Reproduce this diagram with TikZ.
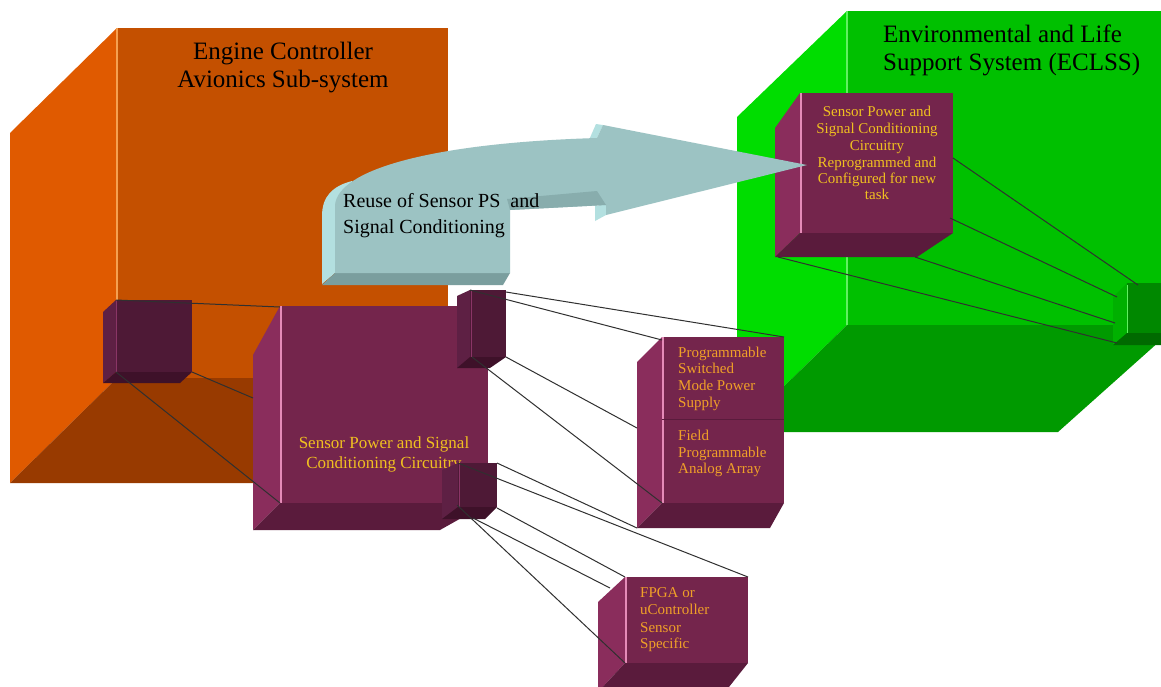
\documentclass[tikz,border=0pt]{standalone}
\usepackage{fontspec}
\setmainfont{Liberation Serif}
\definecolor{orBack}{HTML}{C45000}
\definecolor{orLeft}{HTML}{E05A00}
\definecolor{orFloor}{HTML}{983A00}
\definecolor{orHi}{HTML}{F5A050}
\definecolor{grBack}{HTML}{00C000}
\definecolor{grLeft}{HTML}{00DD00}
\definecolor{grFloor}{HTML}{009A00}
\definecolor{grHi}{HTML}{60F060}
\definecolor{mFront}{HTML}{74254C}
\definecolor{mLeft}{HTML}{8A2D5C}
\definecolor{mBottom}{HTML}{5A1B3C}
\definecolor{mHi}{HTML}{E58BB8}
\definecolor{dFront}{HTML}{4E1936}
\definecolor{dLeft}{HTML}{5E2044}
\definecolor{dBottom}{HTML}{3E1129}
\definecolor{dHi}{HTML}{8A3566}
\definecolor{sgFront}{HTML}{008800}
\definecolor{sgLeft}{HTML}{00B000}
\definecolor{sgBottom}{HTML}{006A00}
\definecolor{arFront}{HTML}{9CC3C3}
\definecolor{arLight}{HTML}{B3E0E0}
\definecolor{arDark}{HTML}{7A9E9E}
\definecolor{arBand}{HTML}{88ADAD}
\definecolor{txGold}{HTML}{F0C020}
\definecolor{txOrange}{HTML}{F0A028}
\definecolor{wireC}{HTML}{303030}
\newcommand{\solidbox}[9]{%
  \fill[#9Left] (#5,#6) -- (#1,#2) -- (#1,#4) -- (#5,#7) -- cycle;
  \fill[#9Bottom] (#5,#7) -- (#1,#4) -- (#3,#4) -- (#8,#7) -- cycle;
  \fill[#9Front] (#1,#2) rectangle (#3,#4);
}
\begin{document}
\begin{tikzpicture}[x=1pt,y=-1pt,
  wire/.style={draw=wireC,line width=1pt},
  title/.style={inner sep=0pt,font=\fontsize{25}{29}\selectfont,text=black},
  reuse/.style={inner sep=0pt,font=\fontsize{20}{24}\selectfont,text=black,anchor=base west},
  mtext/.style={inner sep=0pt,font=\fontsize{17}{20}\selectfont,text=txGold,anchor=base},
  etext/.style={inner sep=0pt,font=\fontsize{15}{17}\selectfont,text=txGold,anchor=base},
  ptext/.style={inner sep=0pt,font=\fontsize{15}{17}\selectfont,text=txOrange,anchor=base west}]
\useasboundingbox (0,0) rectangle (1161,686);
\fill[white] (0,0) rectangle (1161,686);

% ---------- orange cube ----------
\fill[orBack] (117,28) rectangle (448,378);
\fill[orLeft] (10,133) -- (117,28) -- (117,378) -- (10,483) -- cycle;
\fill[orFloor] (117,378) -- (448,378) -- (343,483) -- (10,483) -- cycle;
\draw[orHi,line width=1.2pt] (117,28) -- (117,300);
\node[title,anchor=base] (t1a) at (283,59) {Engine Controller};
\node[title,anchor=base] (t1b) at (283,87) {Avionics Sub-system};

% ---------- green cube ----------
\fill[grBack] (847,11) rectangle (1161,325);
\fill[grLeft] (737,117) -- (847,11) -- (847,325) -- (737,432) -- cycle;
\fill[grFloor] (847,325) -- (1161,325) -- (1161,340) -- (1058,432) -- (737,432) -- cycle;
\draw[grHi,line width=1.2pt] (847,11) -- (847,325);
\node[title,anchor=base west] (t2a) at (883,42) {Environmental and Life};
\node[title,anchor=base west] (t2b) at (883,70) {Support System (ECLSS)};

% ---------- small box in orange cube ----------
\solidbox{116}{300}{192}{372}{103}{312}{383}{180}{d}
\draw[dHi,line width=1pt] (116,300) -- (116,372);

% ---------- main module ----------
\solidbox{280}{306}{488}{503}{253}{355}{530}{440}{m}
\draw[mHi,line width=1.5pt] (281,306) -- (281,503);
\node[mtext] (mm1) at (384,448) {Sensor Power and Signal};
\node[mtext] (mm2) at (384,468) {Conditioning Circuitry};

% small boxes on main module
\solidbox{470}{290}{506}{357}{457}{296}{368}{490}{d}
\draw[dHi,line width=1pt] (471,290) -- (471,357);
\solidbox{458}{463}{497}{507}{442}{470}{519}{485}{d}
\draw[dHi,line width=1pt] (459,463) -- (459,507);

% ---------- ECLSS module ----------
\solidbox{800}{93}{953}{233}{775}{128}{257}{917}{m}
\draw[mHi,line width=1.5pt] (801,93) -- (801,233);
\node[etext] (e1) at (877,116) {Sensor Power and};
\node[etext] (e2) at (877,133) {Signal Conditioning};
\node[etext] (e3) at (877,150) {Circuitry};
\node[etext] (e4) at (877,167) {Reprogrammed and};
\node[etext] (e5) at (877,183) {Configured for new};
\node[etext] (e6) at (877,199) {task};

% small green box
\solidbox{1127}{283}{1161}{333}{1113}{297}{345}{1161}{sg}
\draw[grHi,line width=1pt] (1127,285) -- (1127,333);

% ---------- programmable box ----------
\solidbox{662}{337}{784}{503}{637}{362}{528}{770}{m}
\draw[mHi,line width=1.5pt] (663,337) -- (663,503);
\draw[mBottom,line width=1pt] (662,419) -- (784,419);
\node[ptext] (p1) at (678,357) {Programmable};
\node[ptext] (p2) at (678,373) {Switched};
\node[ptext] (p3) at (678,390) {Mode Power};
\node[ptext] (p4) at (678,407) {Supply};
\node[ptext] (p5) at (678,440) {Field};
\node[ptext] (p6) at (678,457) {Programmable};
\node[ptext] (p7) at (678,473) {Analog Array};

% ---------- FPGA box ----------
\solidbox{625}{577}{748}{663}{598}{602}{692}{725}{m}
\draw[mHi,line width=1.5pt] (626,577) -- (626,663);
\node[ptext] (f1) at (640,597) {FPGA or};
\node[ptext] (f2) at (640,614) {uController};
\node[ptext] (f3) at (640,632) {Sensor};
\node[ptext] (f4) at (640,648) {Specific};

% ---------- connector end points ----------
\coordinate (osTL) at (116,300);
\coordinate (osBR) at (192,372);
\coordinate (osBL) at (116,372);
\coordinate (mmTL) at (280,307);
\coordinate (mmL) at (253,398);
\coordinate (mmBL) at (280,503);
\coordinate (tsTL) at (470,290);
\coordinate (tsTR) at (506,292);
\coordinate (tsBR) at (506,357);
\coordinate (tsBL) at (472,357);
\coordinate (pgTL) at (662,340);
\coordinate (pgTR) at (784,337);
\coordinate (pgL) at (637,428);
\coordinate (pgBL) at (662,503);
\coordinate (pgBB) at (637,528);
\coordinate (bsTR) at (497,463);
\coordinate (bsTL) at (458,463);
\coordinate (bsBR) at (497,508);
\coordinate (bsB) at (473,518);
\coordinate (bsBL) at (457,505);
\coordinate (fpTR) at (748,577);
\coordinate (fpTL) at (625,577);
\coordinate (fpL) at (610,588);
\coordinate (fpBL) at (625,663);
\coordinate (ecR) at (953,158);
\coordinate (ecBR) at (950,218);
\coordinate (ecBB) at (915,257);
\coordinate (ecBL) at (778,257);
\coordinate (sgT) at (1138,285);
\coordinate (sgL1) at (1117,297);
\coordinate (sgL2) at (1115,323);
\coordinate (sgL3) at (1117,343);

% ---------- connectors ----------
\draw[wire] (osTL) -- (mmTL);
\draw[wire] (osBR) -- (mmL);
\draw[wire] (osBL) -- (mmBL);
\draw[wire] (tsTL) -- (pgTL);
\draw[wire] (tsTR) -- (pgTR);
\draw[wire] (tsBR) -- (pgL);
\draw[wire] (tsBL) -- (pgBL);
\draw[wire] (bsTR) -- (pgBB);
\draw[wire] (bsTL) -- (fpTR);
\draw[wire] (bsBR) -- (fpTL);
\draw[wire] (bsB) -- (fpL);
\draw[wire] (bsBL) -- (fpBL);
\draw[wire] (ecR) -- (sgT);
\draw[wire] (ecBR) -- (sgL1);
\draw[wire] (ecBB) -- (sgL2);
\draw[wire] (ecBL) -- (sgL3);

% ---------- curved reuse arrow ----------
% left (light) face of the tail
\fill[arLight] (322,284) -- (322,216) .. controls (322,196) and (333,186) .. (352,181) -- (352,250) -- (335,273) -- cycle;
% bottom (dark) face of the tail
\fill[arDark] (322,285) -- (335,273) -- (510,273) -- (503,285) -- cycle;
% light bevels at the back of the head
\fill[arLight] (589,140) -- (596,124) -- (603,125) -- (597,138) -- cycle;
\fill[arLight] (595,221) -- (595,206) -- (606,204) -- (606,215) -- cycle;
% front face
\fill[arFront] (335,273) -- (335,205) .. controls (338,170) and (430,143) .. (597,138)
  -- (603,125) -- (807,165) -- (606,215) -- (606,205) -- (510,210) -- (510,273) -- cycle;
\fill[arBand] (507,199) -- (597,191) -- (606,205) -- (510,210) -- cycle;
\node[reuse] (r1) at (343,207) {Reuse of Sensor PS\ \ and};
\node[reuse] (r2) at (343,233) {Signal Conditioning};
\end{tikzpicture}
\end{document}
